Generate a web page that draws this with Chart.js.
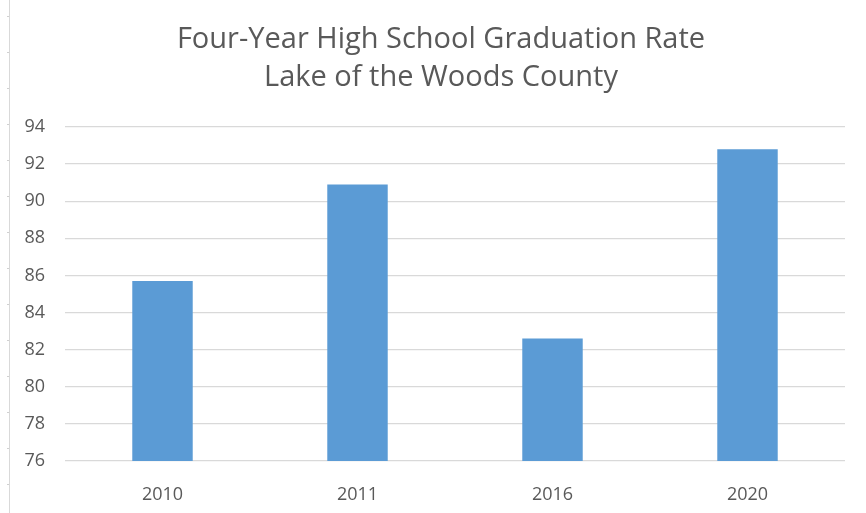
<!DOCTYPE html>
<html>
<head>
<meta charset="utf-8">
<script src="https://cdn.jsdelivr.net/npm/chart.js@4/dist/chart.umd.min.js"></script>
<style>
  html, body { margin: 0; padding: 0; background: #fff; }
  #wrap { position: relative; width: 866px; height: 513px; }
  #rule { position: absolute; left: 9px; top: 0; width: 1px; height: 513px; background: #d9d9d9; }
  #ticks { position: absolute; left: 7px; top: 16px; width: 2px; height: 497px;
           background: repeating-linear-gradient(to bottom, #d0d0d0 0, #d0d0d0 1px, transparent 1px, transparent 36px); }
  canvas { position: absolute; left: 0; top: 0; }
</style>
</head>
<body>
<div id="wrap">
  <div id="rule"></div>
  <div id="ticks"></div>
  <canvas id="c" width="866" height="513"></canvas>
</div>
<script>
const categories = ["2010", "2011", "2016", "2020"];
const rates = [85.7, 90.9, 82.6, 92.8];
const titleLines = ["Four-Year High School Graduation Rate", "Lake of the Woods County"];
const yMin = 76, yMax = 94, yStep = 2;

const grey = "#595959";
const fam = "'Open Sans', Lato, sans-serif";

const titlePlugin = {
  id: "offsetTitle",
  afterDraw(chart) {
    const ctx = chart.ctx;
    ctx.save();
    ctx.fillStyle = grey;
    ctx.font = "29px " + fam;
    ctx.textAlign = "center";
    ctx.textBaseline = "middle";
    const cx = 441, y0 = 40, lh = 38;
    titleLines.forEach((t, i) => ctx.fillText(t, cx, y0 + i * lh));
    ctx.restore();
  }
};

new Chart(document.getElementById("c"), {
  type: "bar",
  data: {
    labels: categories,
    datasets: [{
      data: rates,
      backgroundColor: "#5b9bd5",
      borderWidth: 0,
      categoryPercentage: 1.0,
      barPercentage: 0.31
    }]
  },
  options: {
    responsive: false,
    animation: false,
    layout: { padding: { left: 0, right: 21, top: 127, bottom: 0 } },
    plugins: {
      legend: { display: false },
      tooltip: { enabled: false },
      title: { display: false }
    },
    scales: {
      x: {
        grid: { display: false },
        border: { display: false },
        ticks: { color: grey, font: { family: fam, size: 18 }, padding: 15 },
        afterFit: (s) => { s.height = 52; }
      },
      y: {
        min: yMin, max: yMax,
        ticks: { stepSize: yStep, color: grey, font: { family: fam, size: 18 }, padding: 20 },
        grid: { color: "#d9d9d9", lineWidth: 1.3, drawTicks: false },
        border: { display: false },
        afterFit: (s) => { s.width = 65; }
      }
    }
  },
  plugins: [titlePlugin]
});
</script>
</body>
</html>
